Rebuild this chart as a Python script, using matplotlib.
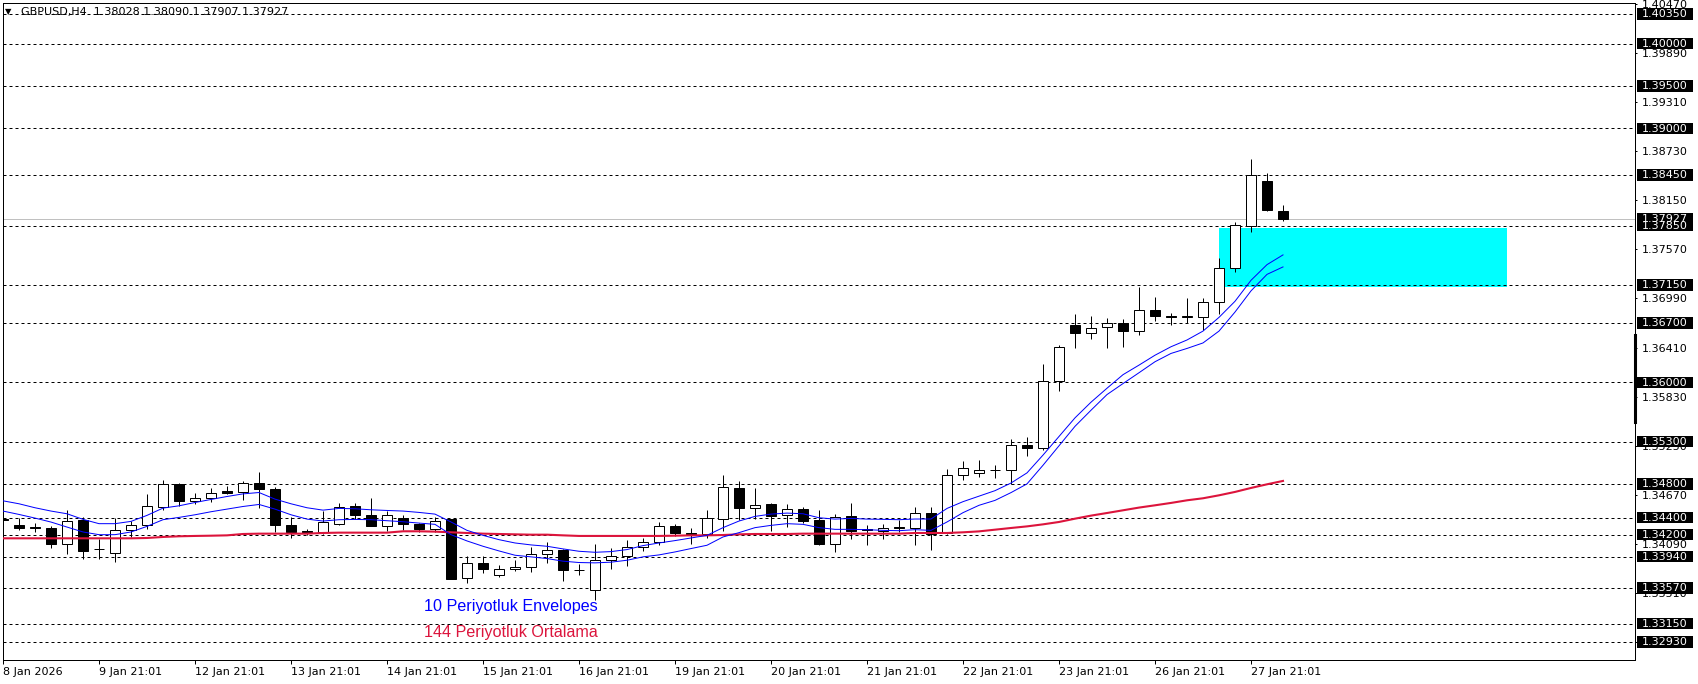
import numpy as np
import matplotlib
matplotlib.use("Agg")
import matplotlib.pyplot as plt
from matplotlib.patches import Rectangle
from matplotlib.lines import Line2D

# GBPUSD H4 mumlari (acilis, yuksek, dusuk, kapanis)
opens = [1.34380, 1.34318, 1.34285, 1.34283, 1.34094, 1.34369, 1.34030, 1.33989, 1.34259, 1.34318,
         1.34526, 1.34800, 1.34600, 1.34635, 1.34714, 1.34706, 1.34816, 1.34745, 1.34318, 1.34243,
         1.34232, 1.34330, 1.34533, 1.34435, 1.34306, 1.34400, 1.34322, 1.34267, 1.34381, 1.33683,
         1.33871, 1.33718, 1.33789, 1.33820, 1.33977, 1.34016, 1.33785, 1.33542, 1.33906, 1.33953,
         1.34055, 1.34118, 1.34306, 1.34216, 1.34208, 1.34384, 1.34753, 1.34518, 1.34557, 1.34435,
         1.34506, 1.34369, 1.34094, 1.34416, 1.34271, 1.34247, 1.34295, 1.34283, 1.34460, 1.34220,
         1.34910, 1.34933, 1.34965, 1.34969, 1.35265, 1.35229, 1.36018, 1.36673, 1.36578, 1.36649,
         1.36696, 1.36602, 1.36850, 1.36779, 1.36775, 1.36775, 1.36945, 1.37349, 1.37844, 1.38379,
         1.38028]
highs = [1.34428, 1.34400, 1.34337, 1.34298, 1.34494, 1.34408, 1.34153, 1.34400, 1.34357, 1.34682,
         1.34847, 1.34816, 1.34698, 1.34753, 1.34776, 1.34839, 1.34937, 1.34761, 1.34408, 1.34271,
         1.34479, 1.34580, 1.34580, 1.34628, 1.34479, 1.34428, 1.34341, 1.34408, 1.34385, 1.33945,
         1.33945, 1.33836, 1.33906, 1.34051, 1.34118, 1.34036, 1.33859, 1.34087, 1.34047, 1.34141,
         1.34157, 1.34345, 1.34330, 1.34283, 1.34486, 1.34910, 1.34839, 1.34753, 1.34573, 1.34557,
         1.34526, 1.34486, 1.34439, 1.34580, 1.34310, 1.34322, 1.34377, 1.34527, 1.34527, 1.34981,
         1.35068, 1.35079, 1.35020, 1.35336, 1.35348, 1.36215, 1.36444, 1.36807, 1.36783, 1.36756,
         1.36744, 1.37130, 1.37004, 1.36815, 1.36992, 1.36992, 1.37466, 1.37895, 1.38635, 1.38470,
         1.38090]
lows = [1.34330, 1.34251, 1.34228, 1.34043, 1.33977, 1.33918, 1.33918, 1.33879, 1.34173, 1.34271,
        1.34486, 1.34533, 1.34557, 1.34584, 1.34682, 1.34612, 1.34518, 1.34232, 1.34165, 1.34192,
        1.34212, 1.34314, 1.34384, 1.34298, 1.34243, 1.34251, 1.34228, 1.34236, 1.33675, 1.33624,
        1.33742, 1.33702, 1.33773, 1.33757, 1.33867, 1.33655, 1.33718, 1.33428, 1.33796, 1.33832,
        1.34008, 1.34079, 1.34188, 1.34094, 1.34165, 1.34243, 1.34377, 1.34384, 1.34243, 1.34290,
        1.34337, 1.34075, 1.33996, 1.34149, 1.34075, 1.34149, 1.34231, 1.34074, 1.34015, 1.34210,
        1.34843, 1.34882, 1.34866, 1.34803, 1.35131, 1.35198, 1.35900, 1.36409, 1.36515, 1.36409,
        1.36420, 1.36558, 1.36728, 1.36681, 1.36696, 1.36618, 1.36807, 1.37298, 1.37772, 1.38020,
        1.37907]
closes = [1.34377, 1.34279, 1.34283, 1.34094, 1.34365, 1.34008, 1.34034, 1.34259, 1.34318, 1.34533,
          1.34800, 1.34596, 1.34628, 1.34698, 1.34698, 1.34816, 1.34737, 1.34314, 1.34232, 1.34236,
          1.34345, 1.34526, 1.34435, 1.34306, 1.34435, 1.34322, 1.34271, 1.34365, 1.33679, 1.33867,
          1.33789, 1.33789, 1.33824, 1.33977, 1.34024, 1.33785, 1.33777, 1.33906, 1.33953, 1.34055,
          1.34118, 1.34306, 1.34220, 1.34208, 1.34392, 1.34769, 1.34514, 1.34553, 1.34424, 1.34506,
          1.34361, 1.34087, 1.34408, 1.34243, 1.34251, 1.34283, 1.34283, 1.34460, 1.34212, 1.34910,
          1.34993, 1.34969, 1.34961, 1.35265, 1.35229, 1.36018, 1.36420, 1.36578, 1.36637, 1.36696,
          1.36602, 1.36850, 1.36779, 1.36771, 1.36779, 1.36945, 1.37347, 1.37856, 1.38446, 1.38030,
          1.37927]

# 10 periyotluk envelopes (ust / alt bant) ve 144 periyotluk ortalama
env_ust = [1.34600, 1.34565, 1.34518, 1.34479, 1.34447, 1.34381, 1.34330, 1.34330, 1.34357, 1.34428,
           1.34514, 1.34541, 1.34580, 1.34616, 1.34651, 1.34682, 1.34698, 1.34620, 1.34565, 1.34518,
           1.34490, 1.34510, 1.34506, 1.34494, 1.34486, 1.34479, 1.34463, 1.34443, 1.34350, 1.34251,
           1.34192, 1.34141, 1.34102, 1.34079, 1.34063, 1.34032, 1.34004, 1.33992, 1.34000, 1.34024,
           1.34071, 1.34102, 1.34130, 1.34161, 1.34192, 1.34283, 1.34361, 1.34416, 1.34443, 1.34455,
           1.34447, 1.34400, 1.34384, 1.34392, 1.34384, 1.34381, 1.34377, 1.34385, 1.34385, 1.34510,
           1.34590, 1.34655, 1.34720, 1.34810, 1.34930, 1.35140, 1.35360, 1.35580, 1.35765, 1.35930,
           1.36090, 1.36203, 1.36320, 1.36420, 1.36500, 1.36605, 1.36767, 1.36957, 1.37205, 1.37390,
           1.37505]
env_alt = [1.34479, 1.34439, 1.34396, 1.34349, 1.34290, 1.34232, 1.34200, 1.34200, 1.34232, 1.34298,
           1.34377, 1.34404, 1.34435, 1.34471, 1.34502, 1.34533, 1.34557, 1.34502, 1.34435, 1.34384,
           1.34361, 1.34377, 1.34380, 1.34377, 1.34365, 1.34353, 1.34337, 1.34322, 1.34200, 1.34126,
           1.34063, 1.34008, 1.33957, 1.33938, 1.33918, 1.33887, 1.33871, 1.33867, 1.33875, 1.33898,
           1.33938, 1.33961, 1.33996, 1.34036, 1.34075, 1.34173, 1.34224, 1.34283, 1.34310, 1.34330,
           1.34322, 1.34283, 1.34263, 1.34263, 1.34259, 1.34251, 1.34247, 1.34259, 1.34251, 1.34350,
           1.34460, 1.34547, 1.34605, 1.34697, 1.34800, 1.35020, 1.35250, 1.35480, 1.35670, 1.35855,
           1.35985, 1.36113, 1.36243, 1.36341, 1.36400, 1.36465, 1.36605, 1.36830, 1.37080, 1.37275,
           1.37363]
ort144 = [1.34157, 1.34157, 1.34157, 1.34157, 1.34157, 1.34157, 1.34157, 1.34157, 1.34157, 1.34161,
          1.34173, 1.34181, 1.34185, 1.34188, 1.34192, 1.34208, 1.34212, 1.34212, 1.34212, 1.34212,
          1.34220, 1.34224, 1.34224, 1.34224, 1.34224, 1.34240, 1.34240, 1.34236, 1.34228, 1.34220,
          1.34212, 1.34208, 1.34204, 1.34200, 1.34200, 1.34192, 1.34185, 1.34185, 1.34185, 1.34185,
          1.34185, 1.34185, 1.34188, 1.34192, 1.34192, 1.34196, 1.34204, 1.34208, 1.34208, 1.34208,
          1.34212, 1.34212, 1.34212, 1.34212, 1.34212, 1.34212, 1.34212, 1.34220, 1.34220, 1.34220,
          1.34228, 1.34239, 1.34259, 1.34279, 1.34298, 1.34322, 1.34350, 1.34389, 1.34425, 1.34456,
          1.34488, 1.34520, 1.34547, 1.34575, 1.34606, 1.34630, 1.34665, 1.34705, 1.34752, 1.34795,
          1.34835]

# yatay seviyeler ve sag eksendeki fiyat etiketleri
seviyeler = [1.40350, 1.40000, 1.39500, 1.39000, 1.38450, 1.37850, 1.37150, 1.36700, 1.36000,
             1.35300, 1.34800, 1.34400, 1.34200, 1.33940, 1.33570, 1.33150, 1.32930]
eksen_fiyatlari = [1.40470, 1.39890, 1.39310, 1.38730, 1.38150, 1.37570, 1.36990, 1.36410,
                   1.35830, 1.35250, 1.34670, 1.34090, 1.33510, 1.32930]
son_fiyat = 1.37927
bolge = (76, 94, 1.37125, 1.37826)   # bar bas, bar son, alt, ust

tarih_etiketleri = ["8 Jan 2026", "9 Jan 21:01", "12 Jan 21:01", "13 Jan 21:01", "14 Jan 21:01",
                    "15 Jan 21:01", "16 Jan 21:01", "19 Jan 21:01", "20 Jan 21:01", "21 Jan 21:01",
                    "22 Jan 21:01", "23 Jan 21:01", "26 Jan 21:01", "27 Jan 21:01"]
baslik = "GBPUSD,H4  1.38028 1.38090 1.37907 1.37927"

W, H = 1699, 684
PX = 0.72  # 1 piksel, punkt olarak

fig = plt.figure(figsize=(W / 100, H / 100), dpi=100)
ax = fig.add_axes([3 / W, 1 - 660 / H, (1635 - 3) / W, (660 - 3) / H])
ax.set_xlim(0, 102)
ax.set_ylim(1.327195, 1.404808)

x = np.arange(len(opens))
o = np.array(opens)
c = np.array(closes)

# bolge (cyan)
ax.add_patch(Rectangle((bolge[0], bolge[2]), bolge[1] - bolge[0], bolge[3] - bolge[2],
                       facecolor="#00FFFF", edgecolor="none", zorder=1))

for s in seviyeler:
    ax.axhline(s, color="black", lw=PX, ls=(0, (3, 3)), zorder=1.5)
ax.axhline(son_fiyat, color="#C0C0C0", lw=PX, zorder=1.6)

# mumlar
ax.vlines(x, lows, highs, color="black", lw=PX, zorder=2.9)
yukselis = c >= o
ax.bar(x, np.abs(c - o), width=0.625, bottom=np.minimum(o, c),
       color=np.where(yukselis, "white", "black"), edgecolor="black", linewidth=PX, zorder=3)

ax.plot(x, ort144, color="#DC143C", lw=1.5, zorder=4)
ax.plot(x, env_ust, color="#0000FF", lw=PX, zorder=4.1)
ax.plot(x, env_alt, color="#0000FF", lw=PX, zorder=4.1)

# eksenler
for sp in ax.spines.values():
    sp.set_linewidth(PX)
ax.yaxis.tick_right()
ax.set_yticks(eksen_fiyatlari)
ax.set_yticklabels([f"{v:.5f}" for v in eksen_fiyatlari])
ax.tick_params(axis="y", direction="out", length=1.5, width=PX, pad=3.6, labelsize=8)
ax.set_xticks(range(0, 6 * len(tarih_etiketleri), 6))
ax.set_xticklabels(tarih_etiketleri, ha="left")
ax.tick_params(axis="x", direction="out", length=2.9, width=PX, pad=2.2, labelsize=8)
for lab in ax.get_xticklabels():
    lab.set_x(lab.get_position()[0])

fig.canvas.draw()


def piksel_y(fiyat):
    return H - ax.transData.transform((0, fiyat))[1]


def kutu(fiyat):
    py = piksel_y(fiyat)
    fig.add_artist(Rectangle((1637 / W, 1 - (py + 5.7) / H), 56 / W, 11.4 / H,
                             transform=fig.transFigure, facecolor="black", edgecolor="none", zorder=5))
    fig.text(1642 / W, 1 - (py + 0.3) / H, f"{fiyat:.5f}", color="white", fontsize=8,
             va="center", ha="left", zorder=6)


kutu(son_fiyat)
for s in seviyeler:
    kutu(s)

# sag eksendeki kalin isaret
fig.add_artist(Line2D([1635.5 / W] * 2, [1 - 335 / H, 1 - 422 / H], lw=2.2, color="black",
                      transform=fig.transFigure, zorder=5))

fig.text(5 / W, 1 - 12 / H, "\u25bc", fontsize=6, va="center", ha="left")
fig.text(21 / W, 1 - 12 / H, baslik, fontsize=8, va="center", ha="left")

fig.text(424 / W, 1 - 607 / H, "10 Periyotluk Envelopes", color="#0000FF", fontsize=11.6,
         family="Liberation Sans", va="center", ha="left")
fig.text(424 / W, 1 - 633 / H, "144 Periyotluk Ortalama", color="#DC143C", fontsize=11.6,
         family="Liberation Sans", va="center", ha="left")

fig.savefig("out.png", dpi=100)
